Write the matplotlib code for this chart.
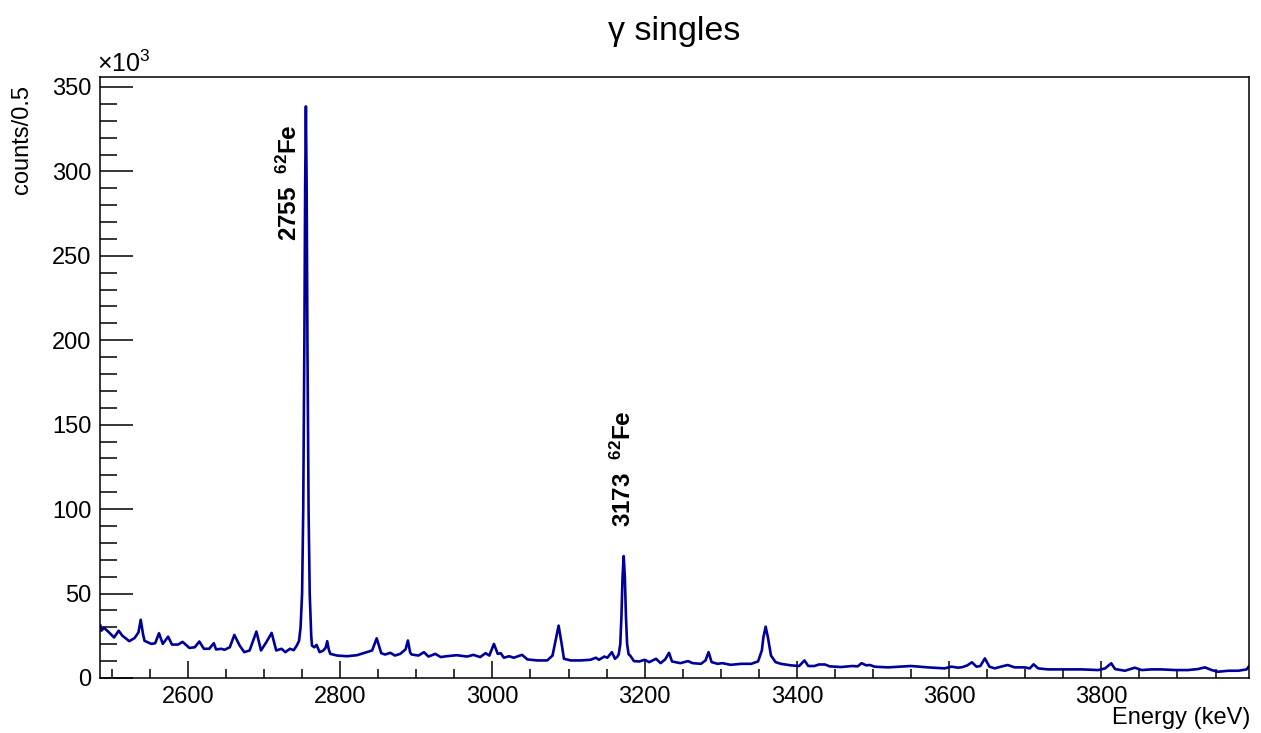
import matplotlib
matplotlib.use("Agg")
import matplotlib.pyplot as plt
from matplotlib.ticker import MultipleLocator

plt.rcParams['font.family'] = ['Liberation Sans', 'DejaVu Sans']
plt.rcParams['mathtext.fontset'] = 'custom'
plt.rcParams['mathtext.rm'] = 'Liberation Sans'
plt.rcParams['mathtext.bf'] = 'Liberation Sans:bold'
plt.rcParams['mathtext.it'] = 'Liberation Sans:italic'

# Spectrum: energy (keV) and counts per 0.5 keV (x10^3)
energy = [2485, 2486, 2490, 2495, 2503, 2509, 2514, 2523, 2530, 2535, 2538, 2541, 2543,
          2552, 2557, 2562, 2567, 2574, 2579, 2587, 2593, 2602, 2609, 2615, 2621, 2628,
          2634, 2637, 2644, 2648, 2655, 2661, 2668, 2674, 2681, 2690, 2696, 2703, 2710,
          2716, 2723, 2728, 2734, 2739, 2743, 2746,
          2748, 2750, 2751.5, 2753, 2754, 2755, 2756, 2757, 2758.5, 2760, 2762,
          2763, 2766, 2769, 2773, 2778, 2781, 2783, 2785, 2787, 2796, 2809, 2822, 2835,
          2842, 2848, 2854, 2859, 2866, 2872, 2879, 2886, 2889, 2892, 2894, 2903, 2910,
          2916, 2925, 2932, 2940, 2953, 2967, 2975, 2984, 2991, 2996, 3002, 3007, 3011,
          3015, 3022, 3028, 3039, 3046, 3059, 3072, 3079, 3083, 3087, 3091, 3094, 3103,
          3116, 3129, 3136, 3140, 3147, 3151, 3157, 3161, 3164,
          3166, 3168, 3169.5, 3171, 3172.5, 3174, 3175.5, 3177, 3179,
          3181, 3186, 3193, 3200, 3206, 3215, 3221, 3227, 3232, 3236, 3247, 3257, 3263,
          3274, 3280, 3284, 3288, 3296, 3302, 3313, 3327, 3340, 3349, 3354, 3356, 3359,
          3362, 3366, 3372, 3379, 3392, 3403, 3410, 3415, 3423, 3429, 3437, 3443, 3458,
          3473, 3480, 3485, 3491, 3496, 3502, 3520, 3550, 3572, 3594, 3603, 3612, 3618,
          3624, 3630, 3636, 3641, 3647, 3653, 3660, 3668, 3677, 3686, 3699, 3706, 3711,
          3717, 3730, 3747, 3757, 3774, 3796, 3805, 3813, 3818, 3831, 3844, 3853, 3866,
          3879, 3897, 3914, 3927, 3936, 3945, 3953, 3967, 3980, 3991, 3994]
counts_k = [31, 28, 29.6, 27.6, 24, 28, 25, 21.8, 23.7, 27, 34.5, 26, 22,
            20.2, 20.6, 26.5, 20.2, 24.5, 19.8, 19.8, 21.4, 17.8, 18.2, 21.6, 17.3, 17.3,
            20.6, 16.9, 17.3, 16.7, 18.2, 25.5, 19.2, 15.3, 16.3, 27.5, 16.3, 21.2, 26.7,
            16.3, 17.3, 15.3, 17.3, 16.5, 19.2, 22,
            30, 50, 100, 200, 290, 338.5, 290, 200, 100, 50, 25,
            19.2, 18.2, 19.6, 15.3, 16.3, 18, 21.8, 17, 14.3, 13.3, 12.9, 13.5, 15.3,
            16.3, 23.5, 14.7, 13.9, 14.9, 13.3, 14.3, 17, 22.2, 15, 13.9, 13.3, 15.3,
            12.7, 14.3, 12.4, 12.9, 13.5, 12.7, 13.7, 12.4, 14.7, 13.3, 20.2, 14.3, 14.7,
            12, 12.9, 12, 13.7, 11, 10.4, 10.4, 13.3, 22, 31, 20.2, 11.4, 10.4,
            10.4, 10.8, 12, 10.8, 12.7, 12, 15.3, 11.4, 12.5,
            14, 20, 36, 60, 72.2, 60, 36, 20, 14,
            13.3, 10, 9.8, 10.8, 9.4, 11.4, 8.8, 11, 14.9, 9.8, 8.8, 10, 8.8,
            8.4, 10.4, 15.3, 9.4, 8.4, 8.8, 7.8, 8.4, 8.4, 9.8, 16.3, 24, 30.4,
            24, 13.3, 9.4, 8.4, 7.5, 7.1, 10.4, 7.1, 7.1, 8, 8, 6.9, 6.5,
            7.1, 6.9, 8.8, 7.5, 7.7, 6.7, 6.3, 7.1, 6.3, 5.7, 6.7, 6.1, 6.5,
            7.5, 9.3, 6.7, 7.1, 11.6, 6.7, 5.7, 6.7, 7.7, 6.3, 6.3, 5.7, 8.1,
            5.7, 5.1, 5.1, 5.1, 5.1, 4.7, 5.7, 8.7, 5.3, 4.3, 6.1, 4.7, 5.1,
            5.1, 4.7, 4.7, 5.3, 6.3, 4.7, 3.7, 4.3, 4.3, 5.1, 7]

peak_energies = [2755, 3173]
peak_labels = [r'$\mathbf{2755\ \ ^{62}Fe}$', r'$\mathbf{3173\ \ ^{62}Fe}$']
label_pos = [(2733, 259), (3171.5, 89.4)]

W, H = 1261, 733
fig = plt.figure(figsize=(W / 100, H / 100), dpi=100)
ax = fig.add_axes([100 / W, (H - 678) / H, (1249 - 100) / W, (678 - 77) / H])

ax.plot(energy, counts_k, color='#000099', lw=1.9)

ax.set_xlim(2484.5, 3994)
ax.set_ylim(0, 355.9)
ax.xaxis.set_major_locator(MultipleLocator(200))
ax.xaxis.set_minor_locator(MultipleLocator(50))
ax.yaxis.set_major_locator(MultipleLocator(50))
ax.yaxis.set_minor_locator(MultipleLocator(10))
ax.tick_params(axis='both', which='both', direction='in', top=False, right=False,
               labelsize=17, width=1.1, color='black')
ax.tick_params(axis='y', which='major', length=23.8, pad=6)
ax.tick_params(axis='y', which='minor', length=12)
ax.tick_params(axis='x', which='major', length=12.5, pad=6)
ax.tick_params(axis='x', which='minor', length=6.2)
for s in ax.spines.values():
    s.set_linewidth(1.1)

for (lx, ly), lab in zip(label_pos, peak_labels):
    ax.text(lx, ly, lab, rotation=90, ha='center', va='bottom', fontsize=17.5)

ax.text(-0.003, 1.0, r'$\times$10$^{3}$', transform=ax.transAxes, ha='left',
        va='bottom', fontsize=18)

fig.text(674.5 / W, (H - 40) / H, 'γ singles', ha='center', va='baseline', fontsize=24.5)
fig.text(22 / W, (H - 85) / H, 'counts/0.5', rotation=90, ha='center', va='top', fontsize=17)
fig.text(1250 / W, (H - 724) / H, 'Energy (keV)', ha='right', va='baseline', fontsize=17)

fig.savefig('out.png', dpi=100)
